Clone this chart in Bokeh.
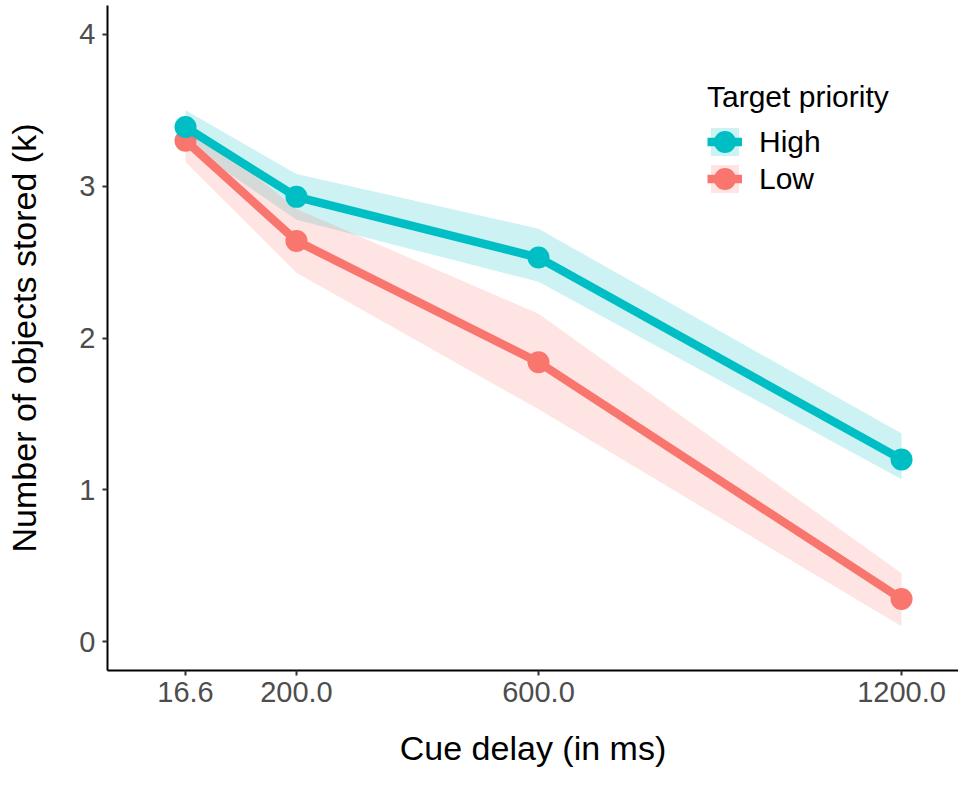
from bokeh.plotting import figure
from bokeh.models import Range1d, FixedTicker, Legend, LegendItem
from bokeh.embed import file_html
from bokeh.resources import INLINE

delays = [16.6, 200.0, 600.0, 1200.0]
tick_labels = ["16.6", "200.0", "600.0", "1200.0"]

high_k = [3.39, 2.93, 2.53, 1.20]
high_lo = [3.28, 2.78, 2.37, 1.07]
high_hi = [3.50, 3.08, 2.72, 1.37]

low_k = [3.30, 2.64, 1.84, 0.28]
low_lo = [3.16, 2.43, 1.53, 0.10]
low_hi = [3.44, 2.85, 2.16, 0.45]

TEAL = "#00BFC4"
RED = "#F8766D"
FONT = "Liberation Sans"

p = figure(width=958, height=775, output_backend="svg", toolbar_location=None,
           x_range=Range1d(-112.3, 1294.1), y_range=Range1d(-0.191, 4.191),
           min_border_left=107, min_border_right=0, min_border_top=5, min_border_bottom=105)
p.outline_line_color = None
p.xgrid.visible = False
p.ygrid.visible = False
p.background_fill_color = "white"
p.border_fill_color = "white"

hb = p.varea(x=delays, y1=high_lo, y2=high_hi, fill_color=TEAL, fill_alpha=0.2)
lb = p.varea(x=delays, y1=low_lo, y2=low_hi, fill_color=RED, fill_alpha=0.2)
ll = p.line(delays, low_k, line_color=RED, line_width=8.5)
lp = p.scatter(delays, low_k, size=14, fill_color=RED, line_color=RED, line_width=8)
hl = p.line(delays, high_k, line_color=TEAL, line_width=8.5)
hp = p.scatter(delays, high_k, size=14, fill_color=TEAL, line_color=TEAL, line_width=8)

for ax in (p.xaxis[0], p.yaxis[0]):
    ax.axis_line_color = "black"
    ax.axis_line_width = 2
    ax.major_tick_line_color = "#333333"
    ax.major_tick_line_width = 2
    ax.major_tick_in = 0
    ax.major_tick_out = 5
    ax.minor_tick_line_color = None
    ax.major_label_text_font = FONT
    ax.major_label_text_font_size = "29px"
    ax.major_label_text_color = "#4d4d4d"
    ax.axis_label_text_font = FONT
    ax.axis_label_text_font_size = "34px"
    ax.axis_label_text_font_style = "normal"
    ax.axis_label_text_color = "black"

p.xaxis.ticker = FixedTicker(ticks=delays)
p.xaxis.major_label_overrides = {d: t for d, t in zip(delays, tick_labels)}
p.xaxis.axis_label = "Cue delay (in ms)"
p.xaxis.major_label_standoff = 6
p.xaxis.axis_label_standoff = 24

p.yaxis.ticker = FixedTicker(ticks=[0, 1, 2, 3, 4])
p.yaxis.axis_label = "Number of objects stored (k)"
p.yaxis.major_label_standoff = 7
p.yaxis.axis_label_standoff = 33

legend = Legend(items=[LegendItem(label="High", renderers=[hb, hl, hp]),
                       LegendItem(label="Low", renderers=[lb, ll, lp])],
                location=(600, 474), title="Target priority")
legend.title_text_font = FONT
legend.title_text_font_size = "30px"
legend.title_text_font_style = "normal"
legend.title_text_color = "black"
legend.title_standoff = 10
legend.label_text_font = FONT
legend.label_text_font_size = "30px"
legend.label_text_color = "black"
legend.glyph_width = 35
legend.glyph_height = 35
legend.spacing = 2
legend.label_standoff = 17
legend.padding = 0
legend.margin = 0
legend.border_line_color = None
legend.background_fill_alpha = 0
p.add_layout(legend)

open("out.html", "w").write(file_html(p, INLINE))
